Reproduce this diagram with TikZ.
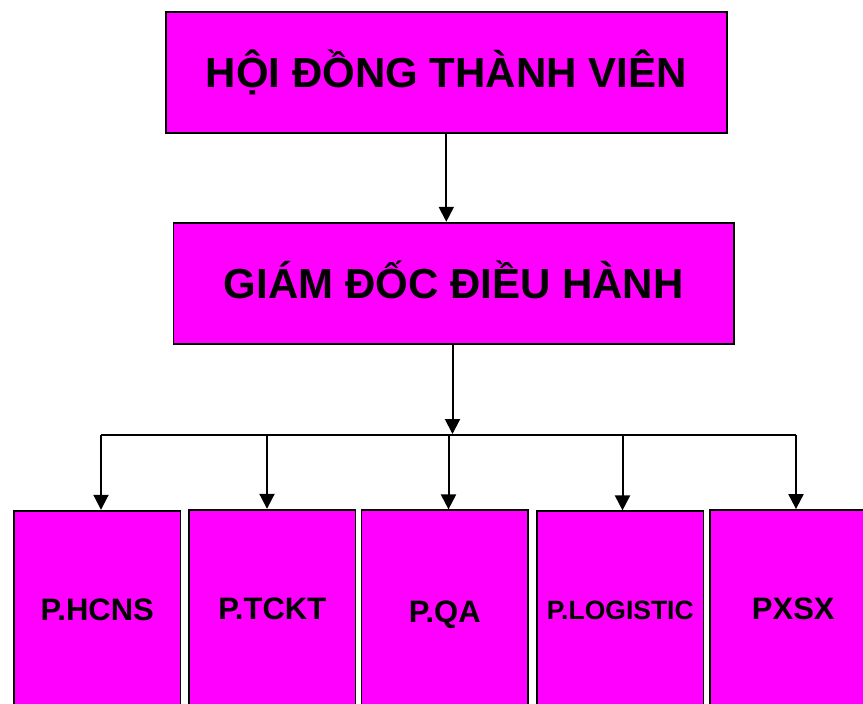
\documentclass[tikz,border=0pt]{standalone}
\usepackage{fontspec}
\setmainfont{Liberation Sans}
\usetikzlibrary{arrows.meta}
\definecolor{boxfill}{HTML}{FF00FF}
\tikzset{
  orgbox/.style={draw=black, line width=1.8pt, fill=boxfill, inner sep=0pt, text depth=0pt},
  bigbox/.style={orgbox, minimum height=121pt,
    font=\fontsize{42}{48}\selectfont\bfseries, text height=30.1pt},
  deptbox/.style={orgbox, minimum width=166.5pt,
    font=\fontsize{31}{36}\selectfont\bfseries, text height=22.2pt},
  smalltext/.style={font=\fontsize{26.5}{30}\selectfont\bfseries, text height=19pt},
  link/.style={line width=2pt, -{Triangle[width=15pt,length=15pt]}},
  bus/.style={line width=2pt},
}
\begin{document}
\begin{tikzpicture}[x=1pt, y=-1pt]
  \useasboundingbox (0,0) rectangle (863,704);
  \clip (0,0) rectangle (863,704);
  \fill[white] (0,0) rectangle (863,704);

  % board and director
  \node[bigbox, minimum width=560.7pt] (hdtv) at (446.3,72.2) {HỘI ĐỒNG THÀNH VIÊN};
  \node[bigbox, minimum width=560.6pt, minimum height=121.6pt] (gd) at (453.7,283.5) {GIÁM ĐỐC ĐIỀU HÀNH};

  % departments
  \node[deptbox, minimum height=197.6pt] (b1) at (97.25,609.5) {P.HCNS};
  \node[deptbox, minimum height=196.6pt] (b2) at (272.25,608) {P.TCKT};
  \node[deptbox, minimum height=201.4pt] (b3) at (444.8,611) {P.QA};
  \node[deptbox, smalltext, minimum height=196.8pt] (b4) at (620.3,609.7) {P.LOGISTIC};
  \node[deptbox, minimum height=197.4pt] (b5) at (793.3,608.7) {PXSX};

  % connectors
  \draw[link] (hdtv.south) -- (hdtv.south |- gd.north);

  \coordinate (hub) at (452.5,434);
  \draw[link] (gd.south -| hub) -- (hub);

  \coordinate (j1) at (101,435);
  \coordinate (j2) at (267,435);
  \coordinate (j3) at (448.5,435);
  \coordinate (j4) at (622.5,435);
  \coordinate (j5) at (796,435);
  \draw[bus] (j1) -- (j5);
  \foreach \i in {1,...,5}
    \draw[link] (j\i) -- (j\i |- b\i.north);
\end{tikzpicture}
\end{document}
